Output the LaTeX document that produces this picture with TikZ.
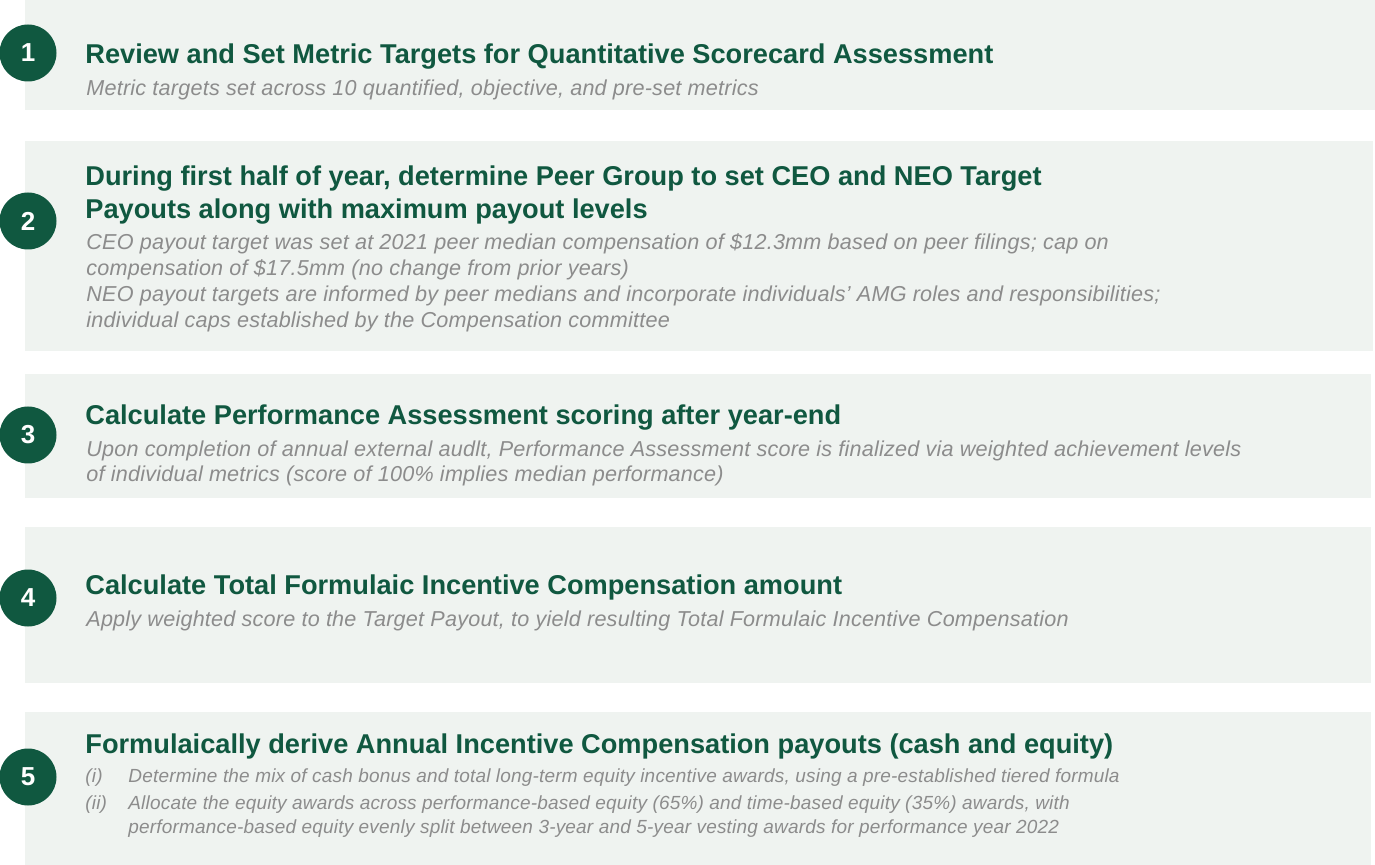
\documentclass[tikz,border=0pt]{standalone}
\usepackage{fontspec}
\setmainfont{Liberation Sans}
\definecolor{amggreen}{RGB}{16,88,64}
\definecolor{panelbg}{RGB}{239,243,240}
\definecolor{subgray}{RGB}{140,140,140}
\begin{document}
\begin{tikzpicture}[x=0.5pt,y=-0.5pt,
  panel/.style={fill=panelbg,draw=none},
  numcirc/.style={circle,fill=amggreen,minimum size=28.5pt,inner sep=0pt,text=white,font=\fontsize{13}{13}\selectfont\bfseries},
  ttl/.style={anchor=base west,inner sep=0pt,text=amggreen,font=\fontsize{13.6}{17}\selectfont\bfseries},
  sub/.style={anchor=base west,inner sep=0pt,text=subgray,font=\fontsize{10.8}{12.8}\selectfont\itshape\addfontfeatures{LetterSpace=1}},
  itm/.style={anchor=base west,inner sep=0pt,text=subgray,font=\fontsize{9.5}{12}\selectfont\itshape\addfontfeatures{LetterSpace=1}}]
\useasboundingbox (0,0) rectangle (1375,865);
% panels
\fill[panel] (25,0) rectangle (1375,110);
\fill[panel] (25,141) rectangle (1373,351);
\fill[panel] (25,374) rectangle (1371,498);
\fill[panel] (25,527) rectangle (1371,683);
\fill[panel] (25,712) rectangle (1371,865);
% circles
\node[numcirc] (c1) at (28,53) {1};
\node[numcirc] (c2) at (28,221) {2};
\node[numcirc] (c3) at (28,435) {3};
\node[numcirc] (c4) at (28,598) {4};
\node[numcirc] (c5) at (28,777) {5};
% panel 1
\node[ttl] (t1) at (85,64) {Review and Set Metric Targets for Quantitative Scorecard Assessment};
\node[sub] (s1) at (86,96) {Metric targets set across 10 quantified, objective, and pre-set metrics};
% panel 2
\node[ttl] (t2a) at (85,186) {During first half of year, determine Peer Group to set CEO and NEO Target};
\node[ttl] (t2b) at (85,219) {Payouts along with maximum payout levels};
\node[sub] (s2a) at (86,250) {CEO payout target was set at 2021 peer median compensation of \$12.3mm based on peer filings; cap on};
\node[sub] (s2b) at (86,276) {compensation of \$17.5mm (no change from prior years)};
\node[sub] (s2c) at (86,302) {NEO payout targets are informed by peer medians and incorporate individuals’ AMG roles and responsibilities;};
\node[sub] (s2d) at (86,328) {individual caps established by the Compensation committee};
% panel 3
\node[ttl] (t3) at (85,425) {Calculate Performance Assessment scoring after year-end};
\node[sub] (s3a) at (86,457) {Upon completion of annual external audlt, Performance Assessment score is finalized via weighted achievement levels};
\node[sub] (s3b) at (86,482) {of individual metrics (score of 100\% implies median performance)};
% panel 4
\node[ttl] (t4) at (85,594) {Calculate Total Formulaic Incentive Compensation amount};
\node[sub] (s4) at (86,626) {Apply weighted score to the Target Payout, to yield resulting Total Formulaic Incentive Compensation};
% panel 5
\node[ttl] (t5) at (85,753) {Formulaically derive Annual Incentive Compensation payouts (cash and equity)};
\node[itm] (i1) at (85,782) {(i)};
\node[itm] (i1t) at (128,782) {Determine the mix of cash bonus and total long-term equity incentive awards, using a pre-established tiered formula};
\node[itm] (i2) at (85,809) {(ii)};
\node[itm] (i2t) at (128,809) {Allocate the equity awards across performance-based equity (65\%) and time-based equity (35\%) awards, with};
\node[itm] (i2u) at (128,833) {performance-based equity evenly split between 3-year and 5-year vesting awards for performance year 2022};
\end{tikzpicture}
\end{document}
